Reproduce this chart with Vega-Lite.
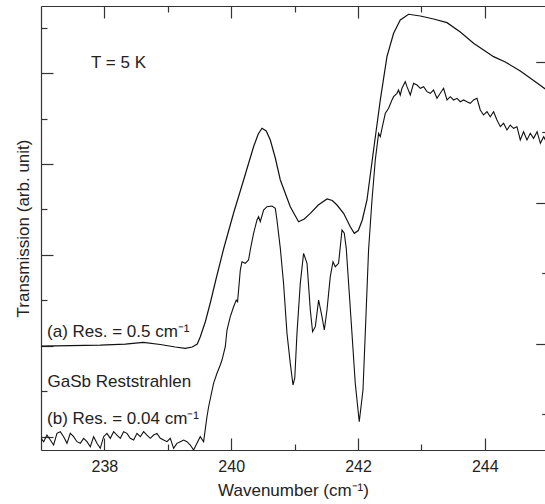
{
  "$schema": "https://vega.github.io/schema/vega-lite/v6.json",
  "width": 504,
  "height": 444,
  "autosize": "none",
  "padding": {"left": 41, "top": 6, "right": 0, "bottom": 54},
  "background": "white",
  "config": {
    "view": {"stroke": null},
    "font": "Liberation Sans",
    "axis": {
      "grid": false,
      "domainColor": "#333",
      "domainWidth": 1.2,
      "tickColor": "#333",
      "tickWidth": 1.2,
      "labelFont": "Liberation Sans",
      "labelFontSize": 16,
      "labelColor": "#222",
      "titleFont": "Liberation Sans",
      "titleFontSize": 17,
      "titleFontWeight": "normal",
      "titleColor": "#222"
    }
  },
  "datasets": {
    "a": [
      {"x": 237.0, "y": 1.993}, {"x": 237.462, "y": 2.004}, {"x": 237.935, "y": 2.015}, {"x": 238.33, "y": 2.037},
      {"x": 238.614, "y": 2.075}, {"x": 238.882, "y": 2.026}, {"x": 239.118, "y": 1.971}, {"x": 239.276, "y": 1.943},
      {"x": 239.386, "y": 1.971}, {"x": 239.465, "y": 2.037}, {"x": 239.513, "y": 2.198}, {"x": 239.591, "y": 2.522},
      {"x": 239.67, "y": 2.941}, {"x": 239.765, "y": 3.491}, {"x": 239.88, "y": 4.13}, {"x": 240.038, "y": 4.923},
      {"x": 240.196, "y": 5.65}, {"x": 240.353, "y": 6.383}, {"x": 240.427, "y": 6.663}, {"x": 240.486, "y": 6.789},
      {"x": 240.553, "y": 6.729}, {"x": 240.617, "y": 6.531}, {"x": 240.696, "y": 6.134}, {"x": 240.775, "y": 5.65},
      {"x": 240.932, "y": 5.062}, {"x": 241.063, "y": 4.731}, {"x": 241.153, "y": 4.791}, {"x": 241.248, "y": 4.916},
      {"x": 241.374, "y": 5.099}, {"x": 241.511, "y": 5.231}, {"x": 241.595, "y": 5.198}, {"x": 241.669, "y": 5.099},
      {"x": 241.773, "y": 4.916}, {"x": 241.879, "y": 4.621}, {"x": 241.942, "y": 4.476}, {"x": 242.005, "y": 4.537},
      {"x": 242.068, "y": 4.769}, {"x": 242.142, "y": 5.209}, {"x": 242.246, "y": 6.311}, {"x": 242.352, "y": 7.412},
      {"x": 242.457, "y": 8.366}, {"x": 242.562, "y": 8.881}, {"x": 242.667, "y": 9.174}, {"x": 242.798, "y": 9.3},
      {"x": 242.983, "y": 9.262}, {"x": 243.193, "y": 9.196}, {"x": 243.404, "y": 9.115}, {"x": 243.614, "y": 8.91},
      {"x": 243.823, "y": 8.661}, {"x": 244.139, "y": 8.366}, {"x": 244.323, "y": 8.249}, {"x": 244.56, "y": 8.051},
      {"x": 244.77, "y": 7.841}, {"x": 244.954, "y": 7.654}, {"x": 245.0, "y": 7.61}
    ],
    "b": [
      {"x": 237.0, "y": -0.04}, {"x": 237.042, "y": -0.114}, {"x": 237.094, "y": 0.033}, {"x": 237.147, "y": -0.077},
      {"x": 237.199, "y": -0.187}, {"x": 237.252, "y": 0.07}, {"x": 237.304, "y": 0.106}, {"x": 237.357, "y": -0.004},
      {"x": 237.41, "y": -0.15}, {"x": 237.462, "y": 0.07}, {"x": 237.515, "y": -0.004}, {"x": 237.567, "y": -0.114},
      {"x": 237.62, "y": -0.15}, {"x": 237.672, "y": -0.04}, {"x": 237.725, "y": -0.114}, {"x": 237.778, "y": -0.224},
      {"x": 237.83, "y": -0.004}, {"x": 237.883, "y": -0.15}, {"x": 237.935, "y": -0.26}, {"x": 237.988, "y": -0.004},
      {"x": 238.04, "y": 0.07}, {"x": 238.093, "y": -0.04}, {"x": 238.146, "y": 0.106}, {"x": 238.198, "y": 0.033},
      {"x": 238.251, "y": -0.04}, {"x": 238.303, "y": 0.106}, {"x": 238.356, "y": 0.07}, {"x": 238.408, "y": -0.04},
      {"x": 238.461, "y": -0.077}, {"x": 238.514, "y": 0.07}, {"x": 238.566, "y": -0.004}, {"x": 238.619, "y": 0.106},
      {"x": 238.671, "y": 0.033}, {"x": 238.724, "y": -0.04}, {"x": 238.776, "y": 0.033}, {"x": 238.829, "y": 0.07},
      {"x": 238.882, "y": -0.04}, {"x": 238.934, "y": -0.077}, {"x": 238.987, "y": -0.114}, {"x": 239.039, "y": -0.04},
      {"x": 239.092, "y": -0.26}, {"x": 239.144, "y": -0.15}, {"x": 239.197, "y": -0.114}, {"x": 239.25, "y": -0.077},
      {"x": 239.302, "y": -0.114}, {"x": 239.355, "y": -0.187}, {"x": 239.407, "y": -0.297}, {"x": 239.46, "y": -0.15},
      {"x": 239.512, "y": -0.004}, {"x": 239.565, "y": -0.114}, {"x": 239.618, "y": 0.436}, {"x": 239.644, "y": 0.656},
      {"x": 239.722, "y": 1.172}, {"x": 239.776, "y": 1.392}, {"x": 239.828, "y": 1.575}, {"x": 239.855, "y": 1.685},
      {"x": 239.907, "y": 1.978}, {"x": 239.934, "y": 2.346}, {"x": 239.986, "y": 2.639}, {"x": 240.038, "y": 2.859},
      {"x": 240.08, "y": 3.007}, {"x": 240.101, "y": 2.969}, {"x": 240.144, "y": 3.667}, {"x": 240.17, "y": 3.85},
      {"x": 240.222, "y": 3.815}, {"x": 240.274, "y": 3.888}, {"x": 240.301, "y": 4.108}, {"x": 240.353, "y": 4.476},
      {"x": 240.407, "y": 4.769}, {"x": 240.432, "y": 4.841}, {"x": 240.459, "y": 4.731}, {"x": 240.511, "y": 4.989},
      {"x": 240.565, "y": 5.062}, {"x": 240.644, "y": 5.077}, {"x": 240.696, "y": 5.026}, {"x": 240.722, "y": 4.769},
      {"x": 240.775, "y": 4.145}, {"x": 240.826, "y": 3.374}, {"x": 240.88, "y": 2.273}, {"x": 240.932, "y": 1.612},
      {"x": 240.975, "y": 1.134}, {"x": 241.003, "y": 1.289}, {"x": 241.038, "y": 2.28}, {"x": 241.09, "y": 3.374},
      {"x": 241.142, "y": 4.035}, {"x": 241.196, "y": 3.815}, {"x": 241.248, "y": 2.786}, {"x": 241.284, "y": 2.308},
      {"x": 241.327, "y": 2.419}, {"x": 241.379, "y": 3.007}, {"x": 241.432, "y": 2.639}, {"x": 241.469, "y": 2.346},
      {"x": 241.511, "y": 2.786}, {"x": 241.563, "y": 3.52}, {"x": 241.606, "y": 3.85}, {"x": 241.642, "y": 3.74},
      {"x": 241.694, "y": 3.815}, {"x": 241.748, "y": 4.548}, {"x": 241.784, "y": 4.476}, {"x": 241.815, "y": 4.145},
      {"x": 241.852, "y": 3.374}, {"x": 241.905, "y": 2.273}, {"x": 241.957, "y": 1.172}, {"x": 242.02, "y": 0.326},
      {"x": 242.079, "y": 1.024}, {"x": 242.115, "y": 2.273}, {"x": 242.167, "y": 4.108}, {"x": 242.221, "y": 5.209},
      {"x": 242.273, "y": 6.09}, {"x": 242.325, "y": 6.678}, {"x": 242.352, "y": 6.604}, {"x": 242.379, "y": 6.789},
      {"x": 242.431, "y": 7.119}, {"x": 242.483, "y": 7.229}, {"x": 242.536, "y": 7.412}, {"x": 242.562, "y": 7.485},
      {"x": 242.615, "y": 7.559}, {"x": 242.64, "y": 7.632}, {"x": 242.667, "y": 7.522}, {"x": 242.694, "y": 7.67},
      {"x": 242.746, "y": 7.815}, {"x": 242.773, "y": 7.705}, {"x": 242.825, "y": 7.522}, {"x": 242.877, "y": 7.78},
      {"x": 242.931, "y": 7.742}, {"x": 242.983, "y": 7.67}, {"x": 243.035, "y": 7.705}, {"x": 243.088, "y": 7.595},
      {"x": 243.14, "y": 7.559}, {"x": 243.192, "y": 7.632}, {"x": 243.246, "y": 7.449}, {"x": 243.298, "y": 7.559},
      {"x": 243.35, "y": 7.67}, {"x": 243.404, "y": 7.412}, {"x": 243.456, "y": 7.485}, {"x": 243.508, "y": 7.412},
      {"x": 243.562, "y": 7.449}, {"x": 243.614, "y": 7.374}, {"x": 243.666, "y": 7.412}, {"x": 243.719, "y": 7.374},
      {"x": 243.771, "y": 7.339}, {"x": 243.823, "y": 7.412}, {"x": 243.877, "y": 7.449}, {"x": 243.929, "y": 7.192},
      {"x": 243.981, "y": 7.081}, {"x": 244.035, "y": 7.154}, {"x": 244.087, "y": 7.044}, {"x": 244.139, "y": 7.154},
      {"x": 244.192, "y": 6.971}, {"x": 244.245, "y": 6.824}, {"x": 244.297, "y": 6.899}, {"x": 244.35, "y": 6.751},
      {"x": 244.402, "y": 6.861}, {"x": 244.454, "y": 6.789}, {"x": 244.508, "y": 6.824}, {"x": 244.56, "y": 6.531},
      {"x": 244.612, "y": 6.714}, {"x": 244.666, "y": 6.531}, {"x": 244.718, "y": 6.678}, {"x": 244.77, "y": 6.568},
      {"x": 244.825, "y": 6.714}, {"x": 244.877, "y": 6.458}, {"x": 244.929, "y": 6.604}, {"x": 244.956, "y": 6.531},
      {"x": 245.0, "y": 6.597}
    ],
    "notes": [
      {"x": 237.789, "y": 8.11, "label": "T = 5 K"},
      {"x": 237.095, "y": 2.185, "label": "(a) Res. = 0.5 cm⁻¹"},
      {"x": 237.104, "y": 1.084, "label": "GaSb Reststrahlen"},
      {"x": 237.095, "y": 0.275, "label": "(b) Res. = 0.04 cm⁻¹"}
    ]
  },
  "layer": [
    {
      "data": {"name": "a"},
      "mark": {"type": "line", "color": "#111", "strokeWidth": 1.2, "clip": true},
      "encoding": {
        "x": {
          "field": "x", "type": "quantitative",
          "scale": {"domain": [237, 244.95], "nice": false, "zero": false},
          "axis": {
            "orient": "bottom",
            "values": [238, 239, 240, 241, 242, 243, 244],
            "labelExpr": "datum.value % 2 === 0 ? datum.label : ''",
            "tickSize": {"condition": {"test": "datum.value % 2 === 0", "value": -12}, "value": -6},
            "labelPadding": 20,
            "title": "Wavenumber (cm⁻¹)",
            "titlePadding": 8
          }
        },
        "y": {
          "field": "y", "type": "quantitative",
          "scale": {"domain": [-0.297, 9.482], "nice": false, "zero": false},
          "axis": {
            "orient": "left",
            "values": [0, 1, 2, 3, 4, 5, 6, 7, 8, 9],
            "labels": false,
            "tickSize": {"condition": {"test": "datum.value % 2 === 0", "value": -12}, "value": -6},
            "title": "Transmission (arb. unit)",
            "titlePadding": 8
          }
        }
      }
    },
    {
      "data": {"name": "b"},
      "mark": {"type": "line", "color": "#111", "strokeWidth": 1.1, "clip": true},
      "encoding": {
        "x": {
          "field": "x", "type": "quantitative",
          "axis": {
            "orient": "top",
            "values": [238, 239, 240, 241, 242, 243, 244],
            "labels": false,
            "tickSize": {"condition": {"test": "datum.value % 2 === 0", "value": -12}, "value": -6},
            "title": null
          }
        },
        "y": {
          "field": "y", "type": "quantitative",
          "axis": {
            "orient": "right",
            "values": [0.489, 2.031, 3.595, 5.15, 6.707, 8.256],
            "labels": false,
            "domain": false,
            "tickSize": {"condition": {"test": "abs(datum.value - 2.031) < 0.01 || abs(datum.value - 5.15) < 0.01 || abs(datum.value - 8.256) < 0.01", "value": -9.3}, "value": -3.3},
            "title": null
          }
        }
      }
    },
    {
      "data": {"name": "notes"},
      "mark": {"type": "text", "align": "left", "baseline": "alphabetic", "fontSize": 17, "font": "Liberation Sans", "color": "#222"},
      "encoding": {
        "x": {"field": "x", "type": "quantitative", "axis": null},
        "y": {"field": "y", "type": "quantitative", "axis": null},
        "text": {"field": "label"}
      }
    }
  ],
  "resolve": {"axis": {"x": "independent", "y": "independent"}}
}
